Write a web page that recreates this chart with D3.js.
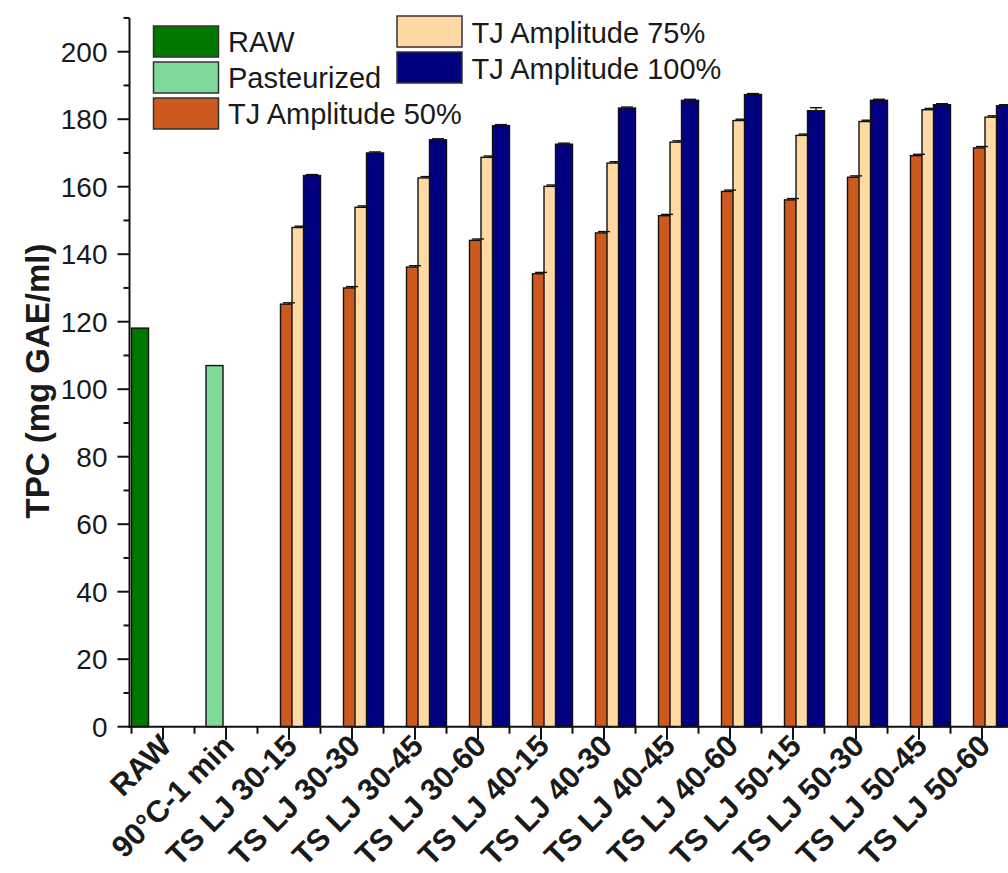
<!DOCTYPE html>
<html>
<head>
<meta charset="utf-8">
<script src="https://cdn.jsdelivr.net/npm/d3@7/dist/d3.min.js"></script>
<style>
  html, body { margin: 0; padding: 0; background: #fff; }
  svg { display: block; }
  text { font-family: "Liberation Sans", Arial, sans-serif; fill: #1a1a1a; }
</style>
</head>
<body>
<svg id="chart" width="1008" height="873"></svg>
<script>
// Total phenolic content per treatment
const categories = ["RAW", "90°C-1 min",
  "TS LJ 30-15", "TS LJ 30-30", "TS LJ 30-45", "TS LJ 30-60",
  "TS LJ 40-15", "TS LJ 40-30", "TS LJ 40-45", "TS LJ 40-60",
  "TS LJ 50-15", "TS LJ 50-30", "TS LJ 50-45", "TS LJ 50-60"];

const seriesNames = ["RAW", "Pasteurized", "TJ Amplitude 50%", "TJ Amplitude 75%", "TJ Amplitude 100%"];
const seriesColors = ["#007800", "#7ed99b", "#cc5a1f", "#ffd9a3", "#000080"];

// Controls (one value each)
const rawValue = [118.1];
const pasteurizedValue = [107.0];

// Thermosonicated juices, in the order of categories[2..13]
const tj50 = [125.2, 130.0, 136.2, 144.1, 134.2, 146.3, 151.4, 158.6, 156.1, 162.8, 169.2, 171.5];
const tj75 = [147.9, 153.9, 162.6, 168.7, 160.1, 167.0, 173.2, 179.6, 175.2, 179.3, 182.8, 180.6];
const tj100 = [163.3, 170.0, 173.9, 178.1, 172.6, 183.3, 185.6, 187.3, 182.5, 185.6, 184.3, 184.0];

// Standard deviations (small)
const tj50Err = [0.4, 0.4, 0.4, 0.4, 0.4, 0.4, 0.4, 0.4, 0.4, 0.4, 0.4, 0.4];
const tj75Err = [0.4, 0.4, 0.4, 0.4, 0.4, 0.4, 0.4, 0.4, 0.4, 0.4, 0.4, 0.4];
const tj100Err = [0.3, 0.3, 0.3, 0.3, 0.3, 0.3, 0.3, 0.3, 0.9, 0.3, 0.3, 0.3];

const yTicks = [0, 20, 40, 60, 80, 100, 120, 140, 160, 180, 200];

// Build flat bar records
const bars = [];
bars.push({ cat: categories[0], series: 0, value: rawValue[0], err: 0 });
bars.push({ cat: categories[1], series: 1, value: pasteurizedValue[0], err: 0 });
[tj50, tj75, tj100].forEach((arr, s) => {
  const errs = [tj50Err, tj75Err, tj100Err][s];
  arr.forEach((v, i) => bars.push({ cat: categories[i + 2], series: s + 2, value: v, err: errs[i] }));
});
bars.sort((a, b) => a.series - b.series);

const svg = d3.select("#chart");
const axisX0 = 131.5, step = 63;
const y0 = 726.7, pxPerUnit = 3.375;

const x = d3.scaleBand().domain(categories)
  .range([axisX0, axisX0 + step * categories.length]).padding(0);
const slot = d3.scalePoint().domain(d3.range(seriesNames.length)).range([-23, 23]);
const y = d3.scaleLinear().domain([0, 210]).range([y0, y0 - 210 * pxPerUnit]);
const barW = 17;

const cx = d => x(d.cat) + x.bandwidth() / 2 + slot(d.series);

// Bars
svg.append("g").selectAll("rect").data(bars).join("rect")
  .attr("x", d => cx(d) - barW / 2)
  .attr("y", d => y(d.value))
  .attr("width", barW)
  .attr("height", d => y(0) - y(d.value))
  .attr("fill", d => seriesColors[d.series])
  .attr("stroke", "#111")
  .attr("stroke-width", 1.4);

// Error bars
const eb = svg.append("g").attr("stroke", "#111").attr("stroke-width", 1.4);
bars.filter(d => d.err > 0).forEach(d => {
  eb.append("line").attr("x1", cx(d)).attr("x2", cx(d))
    .attr("y1", y(d.value)).attr("y2", y(d.value + d.err));
  eb.append("line").attr("x1", cx(d) - 6).attr("x2", cx(d) + 6)
    .attr("y1", y(d.value + d.err)).attr("y2", y(d.value + d.err));
});

// Y axis
const yAxis = svg.append("g").attr("transform", `translate(${axisX0 - 2},0)`);
yAxis.append("line").attr("x1", 0).attr("x2", 0).attr("y1", y(210)).attr("y2", y(0) + 1)
  .attr("stroke", "#111").attr("stroke-width", 2);
d3.range(0, 211, 10).forEach(v => {
  const major = v % 20 === 0;
  yAxis.append("line").attr("x1", major ? -12 : -6).attr("x2", 0)
    .attr("y1", y(v)).attr("y2", y(v)).attr("stroke", "#111").attr("stroke-width", 2);
});
yAxis.selectAll("text.tick").data(yTicks).join("text")
  .attr("class", "tick")
  .attr("x", -22).attr("y", d => y(d) + 10)
  .attr("text-anchor", "end")
  .attr("font-size", 28)
  .text(d => d);

// X axis
const xAxis = svg.append("g").attr("transform", `translate(0,${y0})`);
xAxis.append("line").attr("x1", axisX0 - 3).attr("x2", 1008).attr("y1", 0).attr("y2", 0)
  .attr("stroke", "#111").attr("stroke-width", 2);
categories.forEach(c => {
  const left = x(c), mid = x(c) + x.bandwidth() / 2;
  xAxis.append("line").attr("x1", left).attr("x2", left).attr("y1", 0).attr("y2", 7)
    .attr("stroke", "#111").attr("stroke-width", 2);
  xAxis.append("line").attr("x1", mid).attr("x2", mid).attr("y1", 0).attr("y2", 13)
    .attr("stroke", "#111").attr("stroke-width", 2);
  xAxis.append("text")
    .attr("transform", `translate(${mid + 10},${21}) rotate(-45)`)
    .attr("text-anchor", "end")
    .attr("font-size", 30.5)
    .attr("font-weight", "bold")
    .text(c);
});

// Y axis title
svg.append("text")
  .attr("transform", `translate(49,381) rotate(-90)`)
  .attr("text-anchor", "middle")
  .attr("font-size", 33)
  .attr("font-weight", "bold")
  .text("TPC (mg GAE/ml)");

// Legends
const legendLeft = [0, 1, 2];
const legendRight = [3, 4];
const lg = svg.append("g");
legendLeft.forEach((s, i) => {
  const top = 26 + i * 36;
  lg.append("rect").attr("x", 153.5).attr("y", top).attr("width", 65).attr("height", 31)
    .attr("fill", seriesColors[s]).attr("stroke", "#333").attr("stroke-width", 1.5);
  lg.append("text").attr("x", 228).attr("y", top + 26).attr("font-size", 29).text(seriesNames[s]);
});
legendRight.forEach((s, i) => {
  const top = 16 + i * 36;
  lg.append("rect").attr("x", 397).attr("y", top).attr("width", 65).attr("height", 31)
    .attr("fill", seriesColors[s]).attr("stroke", "#333").attr("stroke-width", 1.5);
  lg.append("text").attr("x", 471.5).attr("y", top + 27).attr("font-size", 29).text(seriesNames[s]);
});
</script>
</body>
</html>
